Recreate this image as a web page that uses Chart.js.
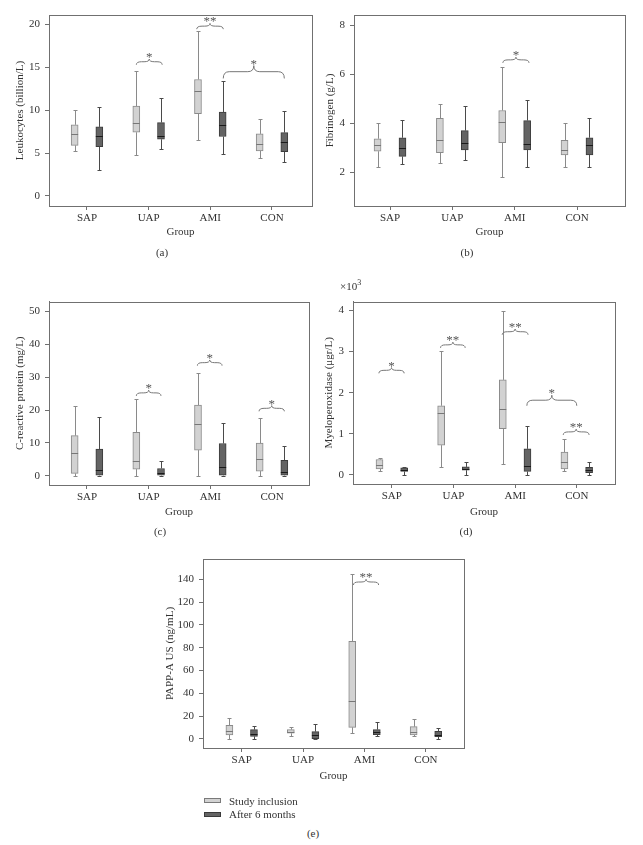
<!DOCTYPE html>
<html lang="en">
<head>
<meta charset="UTF-8" />
<title>Box plots by group</title>
<script src="https://cdn.jsdelivr.net/npm/chart.js@4.4.1/dist/chart.umd.min.js"></script>
<style>
  body { margin: 0; background: #fff; }
  #wrap { position: relative; width: 643px; height: 845px; font-family: "Liberation Serif", "DejaVu Serif", serif; font-size: 11px; color: #333; }
  canvas { position: absolute; }
  .cap { position: absolute; transform: translate(-50%, -50%); white-space: nowrap; color: #333; }
  .txt { position: absolute; transform: translateY(-50%); white-space: nowrap; color: #333; }
  .sw { position: absolute; width: 17px; height: 5px; box-sizing: border-box; border: 1px solid; }
</style>
</head>
<body>
<div id="wrap">
  <canvas id="chartA" width="320" height="290" style="left:0;top:0"></canvas>
  <canvas id="chartB" width="323" height="290" style="left:320px;top:0"></canvas>
  <canvas id="chartC" width="320" height="260" style="left:0;top:290px"></canvas>
  <canvas id="chartD" width="323" height="260" style="left:320px;top:290px"></canvas>
  <canvas id="chartE" width="330" height="260" style="left:150px;top:540px"></canvas>

  <div class="cap" style="left:162px;top:252px">(a)</div>
  <div class="cap" style="left:467px;top:252px">(b)</div>
  <div class="cap" style="left:160px;top:531px">(c)</div>
  <div class="cap" style="left:466px;top:531px">(d)</div>
  <div class="cap" style="left:313px;top:833px">(e)</div>
  <div class="txt" style="left:340px;top:285px">×10<sup style="font-size:8px">3</sup></div>

  <div class="sw" style="left:204px;top:798px;background:#d2d2d2;border-color:#7a7a7a"></div>
  <div class="txt" style="left:229px;top:801px">Study inclusion</div>
  <div class="sw" style="left:204px;top:812px;background:#646464;border-color:#3a3a3a"></div>
  <div class="txt" style="left:229px;top:814px">After 6 months</div>
</div>
<script>
const groups = ["SAP", "UAP", "AMI", "CON"];

// each row: [min, q1, median, q3, max] for SAP, UAP, AMI, CON
const leukoIncl = [[5.2, 5.9, 7.24, 8.3, 10.0], [4.82, 7.43, 8.48, 10.47, 14.6], [6.5, 9.6, 12.2, 13.58, 19.2], [4.44, 5.25, 6.03, 7.24, 8.95]];
const leukoAfter = [[3.0, 5.76, 6.97, 8.05, 10.4], [5.53, 6.61, 6.97, 8.56, 11.4], [4.94, 6.93, 8.33, 9.77, 13.4], [3.93, 5.17, 6.26, 7.39, 9.88]];
const fibIncl = [[2.22, 2.86, 3.12, 3.37, 4.0], [2.39, 2.8, 3.31, 4.2, 4.8], [1.81, 3.21, 4.07, 4.52, 6.3], [2.22, 2.71, 2.91, 3.31, 4.0]];
const fibAfter = [[2.33, 2.65, 3.0, 3.41, 4.12], [2.52, 2.91, 3.21, 3.7, 4.72], [2.22, 2.91, 3.16, 4.11, 4.93], [2.22, 2.71, 3.12, 3.41, 4.2]];
const crpIncl = [[0, 0.7, 6.8, 12.2, 21.3], [0, 2.0, 4.4, 13.2, 23.4], [0, 7.8, 15.8, 21.5, 31.3], [0, 1.4, 5.0, 9.9, 17.5]];
const crpAfter = [[0, 0, 1.75, 8.1, 18.0], [0, 0, 0.9, 2.2, 4.6], [0, 0, 2.5, 9.8, 16.0], [0, 0, 1.0, 4.7, 9.0]];
const mpoIncl = [[0.1, 0.14, 0.23, 0.37, 0.4], [0.19, 0.72, 1.5, 1.68, 3.02], [0.25, 1.12, 1.61, 2.31, 4.0], [0.09, 0.14, 0.31, 0.55, 0.87]];
const mpoAfter = [[0, 0.08, 0.12, 0.17, 0.18], [0, 0.11, 0.15, 0.19, 0.31], [0, 0.08, 0.21, 0.63, 1.19], [0, 0.05, 0.12, 0.18, 0.32]];
const pappIncl = [[0, 3.5, 7.0, 12.0, 18.1], [2.9, 5.0, 6.4, 8.2, 10.2], [5.0, 10.2, 33.0, 85.7, 144.7], [2.9, 3.5, 6.4, 10.8, 17.5]];
const pappAfter = [[0, 2.3, 4.1, 8.2, 11.4], [0, 0.3, 3.8, 6.4, 13.5], [2.6, 3.8, 5.8, 8.2, 14.6], [0, 2.0, 3.5, 6.7, 9.9]];

// significance braces: [from (group units), to, value at brace ends, label]
const leukoBraces = [[0.8, 1.22, 15.3, "*"], [1.78, 2.21, 19.45, "**"], [2.21, 3.2, 13.7, "*"]];
const fibBraces = [[1.81, 2.23, 6.46, "*"]];
const crpBraces = [[0.8, 1.2, 24.3, "*"], [1.79, 2.19, 33.5, "*"], [2.79, 3.2, 19.6, "*"]];
const mpoBraces = [[-0.21, 0.2, 2.47, "*"], [0.79, 1.19, 3.09, "**"], [1.79, 2.21, 3.41, "**"], [2.19, 3.0, 1.68, "*"], [2.78, 3.2, 0.97, "**"]];
const pappBraces = [[1.82, 2.23, 135, "**"]];

const axisColor = "#707070";
const textColor = "#333";
Chart.defaults.font.family = "'Liberation Serif', 'DejaVu Serif', serif";
Chart.defaults.font.size = 11;
Chart.defaults.color = textColor;

function extras(braces) {
  return {
    id: "extras",
    afterDatasetsDraw(chart) {
      const ctx = chart.ctx;
      const ys = chart.scales.y;
      chart.data.datasets.forEach((ds, d) => {
        chart.getDatasetMeta(d).data.forEach((bar, i) => {
          const s = ds.stats[i];
          const cx = Math.round(bar.x) + 0.5;
          const top = ys.getPixelForValue(s[3]), bot = ys.getPixelForValue(s[1]);
          const hi = Math.round(ys.getPixelForValue(s[4])) + 0.5;
          const lo = Math.round(ys.getPixelForValue(s[0])) + 0.5;
          ctx.save();
          ctx.lineWidth = 1;
          ctx.strokeStyle = ds.whiskerColor;
          ctx.beginPath();
          ctx.moveTo(cx, top); ctx.lineTo(cx, hi);
          ctx.moveTo(cx - 2, hi); ctx.lineTo(cx + 2, hi);
          ctx.moveTo(cx, bot); ctx.lineTo(cx, lo);
          ctx.moveTo(cx - 2, lo); ctx.lineTo(cx + 2, lo);
          ctx.stroke();
          const my = Math.round(ys.getPixelForValue(s[2])) + 0.5;
          ctx.strokeStyle = ds.medianColor;
          ctx.beginPath();
          ctx.moveTo(bar.x - bar.width / 2, my);
          ctx.lineTo(bar.x + bar.width / 2, my);
          ctx.stroke();
          ctx.restore();
        });
      });
    },
    afterDraw(chart) {
      const ctx = chart.ctx;
      const a = chart.chartArea;
      const xs = chart.scales.x, ys = chart.scales.y;
      ctx.save();
      ctx.strokeStyle = axisColor;
      ctx.lineWidth = 1;
      ctx.strokeRect(Math.round(a.left) + 0.5, Math.round(a.top) + 0.5, Math.round(a.right - a.left), Math.round(a.bottom - a.top));
      braces.forEach(b => {
        const x1 = xs.getPixelForValue(b[0]), x2 = xs.getPixelForValue(b[1]);
        const yb = ys.getPixelForValue(b[2]);
        const h = Math.min(7, Math.max(3, (x2 - x1) / 9));
        const lv = yb - h, tip = lv - h * 0.9, mid = (x1 + x2) / 2, r = Math.min(6, (x2 - x1) / 5);
        ctx.strokeStyle = "#777";
        ctx.beginPath();
        ctx.moveTo(x1, yb);
        ctx.quadraticCurveTo(x1, lv, x1 + r, lv);
        ctx.lineTo(mid - r, lv);
        ctx.quadraticCurveTo(mid, lv, mid, tip);
        ctx.quadraticCurveTo(mid, lv, mid + r, lv);
        ctx.lineTo(x2 - r, lv);
        ctx.quadraticCurveTo(x2, lv, x2, yb);
        ctx.stroke();
        ctx.fillStyle = "#555";
        ctx.font = "13px 'Liberation Serif', serif";
        ctx.textAlign = "center";
        ctx.textBaseline = "alphabetic";
        ctx.fillText(b[3], mid, tip + 2);
      });
      ctx.restore();
    }
  };
}

function panel(id, incl, after, braces, p) {
  const canvas = document.getElementById(id);
  const W = canvas.width, H = canvas.height, xh = 40;
  const lh = 11 * 1.2;
  new Chart(canvas, {
    type: "bar",
    data: {
      datasets: [
        {
          label: "Study inclusion",
          data: incl.map((s, i) => ({ x: i - 0.2, y: [s[1], s[3]] })),
          stats: incl,
          backgroundColor: "#d2d2d2",
          borderColor: "#8a8a8a",
          whiskerColor: "#8a8a8a",
          medianColor: "#777",
          borderWidth: 1,
          borderSkipped: false,
          barThickness: 7,
          grouped: false
        },
        {
          label: "After 6 months",
          data: after.map((s, i) => ({ x: i + 0.2, y: [s[1], s[3]] })),
          stats: after,
          backgroundColor: "#646464",
          borderColor: "#3c3c3c",
          whiskerColor: "#4a4a4a",
          medianColor: "#1a1a1a",
          borderWidth: 1,
          borderSkipped: false,
          barThickness: 7,
          grouped: false
        }
      ]
    },
    options: {
      responsive: false,
      animation: false,
      events: [],
      layout: { padding: { left: 0, top: p.top, right: W - p.right, bottom: H - p.bottom - xh } },
      plugins: { legend: { display: false }, tooltip: { enabled: false } },
      scales: {
        x: {
          type: "linear",
          min: p.xMin,
          max: p.xMax,
          offset: false,
          grid: { offset: false, drawOnChartArea: false, tickLength: 4, color: axisColor },
          border: { color: axisColor },
          ticks: { stepSize: 1, includeBounds: false, padding: 2, callback: v => groups[v] },
          title: { display: true, text: "Group", padding: { top: 0, bottom: xh - p.groupY - lh / 2 } },
          afterFit: s => { s.height = xh; }
        },
        y: {
          min: p.yMin,
          max: p.yMax,
          beginAtZero: false,
          grid: { drawOnChartArea: false, tickLength: 4, color: axisColor },
          border: { color: axisColor },
          ticks: { stepSize: p.step, includeBounds: false, padding: 5 },
          title: { display: true, text: p.title, padding: { top: p.titleX - lh / 2, bottom: 0 } },
          afterFit: s => { s.width = p.left; }
        }
      }
    },
    plugins: [extras(braces)]
  });
}

panel("chartA", leukoIncl, leukoAfter, leukoBraces, {
  left: 49, right: 312, top: 15, bottom: 206, xMin: -0.616, xMax: 3.649,
  yMin: -1.17, yMax: 21.1, step: 5, title: "Leukocytes (billion/L)", titleX: 20, groupY: 26
});
panel("chartB", fibIncl, fibAfter, fibBraces, {
  left: 34, right: 305, top: 15, bottom: 206, xMin: -0.578, xMax: 3.77,
  yMin: 0.63, yMax: 8.41, step: 2, title: "Fibrinogen (g/L)", titleX: 10, groupY: 26
});
panel("chartC", crpIncl, crpAfter, crpBraces, {
  left: 49, right: 309, top: 4, bottom: 195, xMin: -0.616, xMax: 3.6,
  yMin: -2.83, yMax: 53.0, step: 10, title: "C-reactive protein (mg/L)", titleX: 20, groupY: 27
});
panel("chartD", mpoIncl, mpoAfter, mpoBraces, {
  left: 33, right: 295, top: 4, bottom: 194, xMin: -0.63, xMax: 3.62,
  yMin: -0.226, yMax: 4.217, step: 1, title: "Myeloperoxidase (μgr/L)", titleX: 9.3, groupY: 28
});
panel("chartE", pappIncl, pappAfter, pappBraces, {
  left: 53, right: 314, top: 19, bottom: 208, xMin: -0.63, xMax: 3.62,
  yMin: -7.9, yMax: 157.8, step: 20, title: "PAPP-A US (ng/mL)", titleX: 20, groupY: 28
});
</script>
</body>
</html>
